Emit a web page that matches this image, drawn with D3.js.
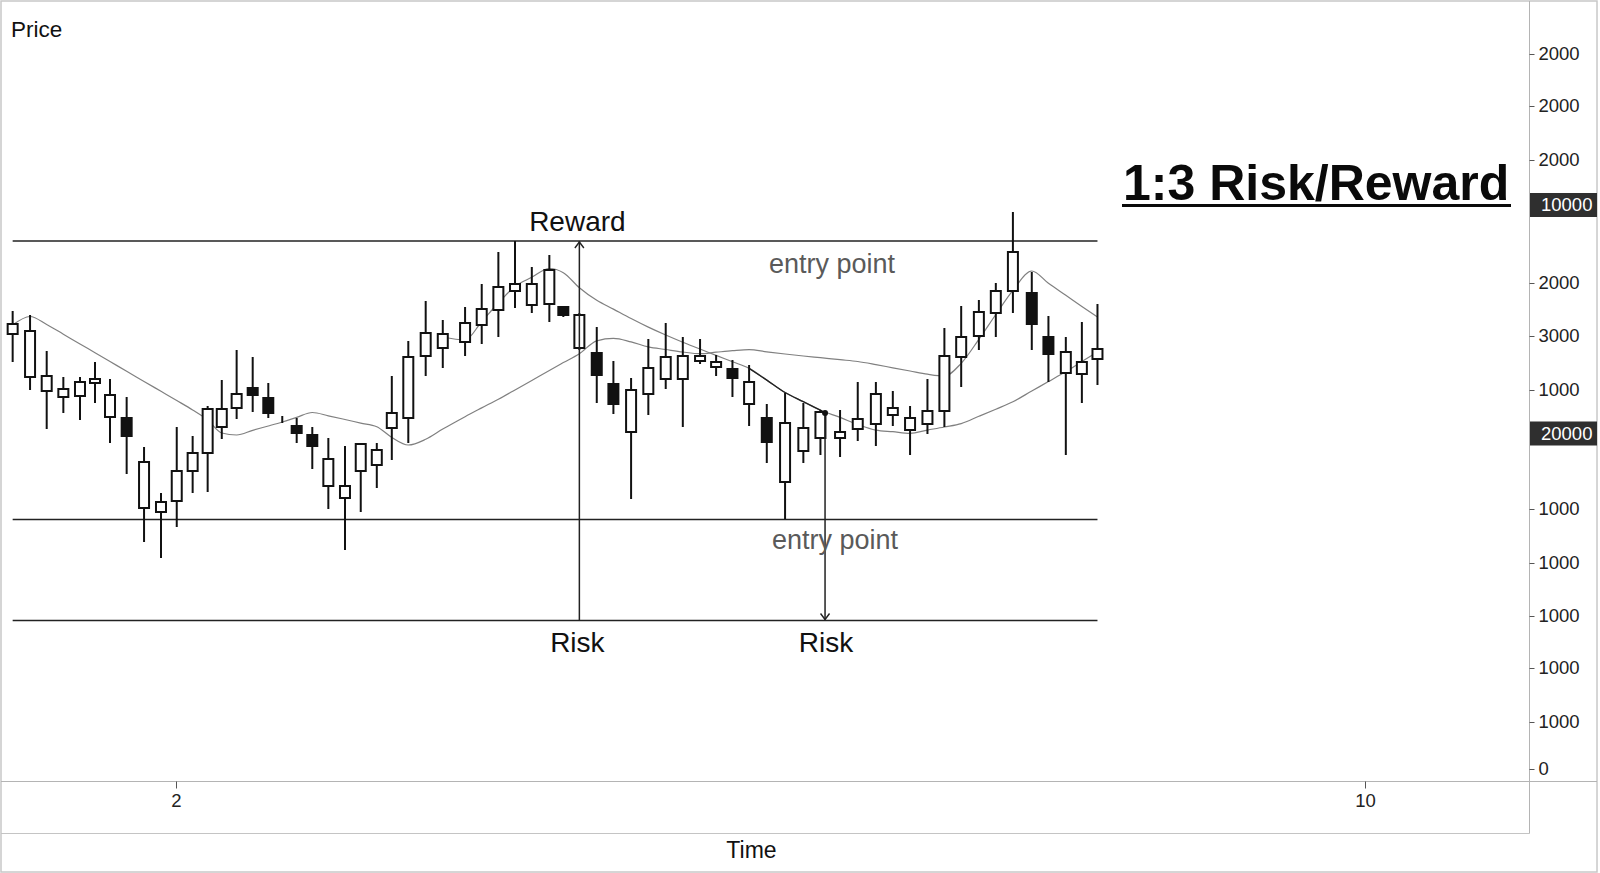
<!DOCTYPE html>
<html><head><meta charset="utf-8">
<script src="https://cdn.jsdelivr.net/npm/d3@7"></script>
<style>html,body{margin:0;padding:0;background:#fff;} svg{display:block;font-family:"Liberation Sans",Arial,sans-serif;}</style>
</head><body><svg id="c" width="1600" height="873"></svg>
<script>
// ---------------- DATA ----------------
const candleTimes = [0.901,1.018,1.130,1.242,1.354,1.455,1.556,1.668,1.785,1.899,2.005,2.112,2.213,2.308,2.408,2.516,2.621,2.715,2.812,2.917,3.025,3.137,3.243,3.351,3.452,3.563,3.680,3.795,3.945,4.057,4.169,4.281,4.394,4.512,4.606,4.714,4.831,4.943,5.062,5.178,5.295,5.410,5.526,5.634,5.744,5.856,5.975,6.098,6.221,6.336,6.468,6.587,6.709,6.823,6.939,7.056,7.170,7.283,7.402,7.516,7.631,7.758,7.870,7.987,8.095,8.200];
const openP  = [435,392,378,372,373,386,352,351,261,257,268,298,316,342,361,381,371,350,343,334,283,271,298,304,341,351,413,421,427,444,459,478,464,465,462,421,416,385,337,375,390,390,408,402,400,365,351,287,318,331,331,340,345,354,339,345,358,412,433,456,478,476,432,396,395,410];
const highP  = [458,454,418,392,392,407,390,372,322,276,342,333,363,389,419,412,386,353,351,342,331,323,326,326,393,428,468,449,462,485,517,528,502,514,463,456,442,408,391,430,446,432,430,414,409,404,365,376,366,359,359,387,387,378,363,390,441,463,469,486,557,497,453,432,447,465];
const lowP   = [407,379,340,356,349,366,326,295,227,211,242,276,277,330,350,357,351,346,326,300,260,219,257,281,309,326,393,401,413,425,432,461,456,447,452,419,366,355,270,354,380,342,405,393,372,343,306,250,306,314,312,328,323,343,314,335,342,382,419,432,456,419,387,314,366,384];
const closeP = [445,438,393,380,387,390,374,333,307,267,298,316,360,360,375,374,356,350,336,323,310,283,325,319,356,412,436,435,446,460,482,485,485,499,454,454,394,365,379,401,412,413,413,407,391,387,327,346,341,357,337,350,375,361,351,358,413,432,457,478,517,445,415,417,407,420];

// moving averages (per candle)
const ma1 = [444,452.5,444.5,434.8,425,416.3,407.5,397.7,387.6,377.7,368.5,359,349,336,334,338.7,343,347,351.6,356.5,353.2,349.5,345.9,342.3,331.6,324,329.7,339.9,352.3,361.1,369.8,379.1,388.6,398.6,406.4,415.3,428.2,430.6,427.1,422.1,419.5,417,415.3,416.8,418.3,419.4,417.2,415,413,411.3,409.3,407.5,404.4,401.2,398,394.8,393,405.7,429.7,454.5,478.6,498,485.7,473.7,462.6,452];
const ma2Start = 27; // ma2 starts at candle index 27
const ma2 = [432,429,447.5,466,482.5,491.7,500.5,496.3,481.3,468.7,459.9,450.5,441.9,434,426.8,420,413.6,407.2,400.6,388.9,376.5,367.3,358.8,351.6,344.5,338.9,337.3,335.7,338.9,342,345.4,352.7,359.8,367.2,378,387.4,397.4,407.4,417];

// levels and annotations
const rewardLevel = 528, entryLevel = 249.5, riskLevel = 148.5;
const rewardArrowT = 4.714;
const riskArrowT = 6.367, riskArrowTop = 356;

// axes
const yTickValues = [715,663,609,486,433,379,260,206,153,101,47,0];
const yTickLabels = ["2000","2000","2000","2000","3000","1000","1000","1000","1000","1000","1000","0"];
const markerValues = [564,335.5];
const markerLabels = ["10000","20000"];
const xTickValues = [2,10];

// ---------------- DRAW ----------------
const FONT = '"Liberation Sans", Arial, sans-serif';
const svg = d3.select('#c');
const x = d3.scaleLinear().domain([2,10]).range([176,1365]);
const y = d3.scaleLinear().domain([0,715]).range([769,54]);

// frame
svg.append('rect').attr('x',1).attr('y',1).attr('width',1596).attr('height',871)
  .attr('fill','#fff').attr('stroke','#c8c8c8').attr('stroke-width',1.5);
svg.append('line').attr('x1',1).attr('x2',1597).attr('y1',781.5).attr('y2',781.5).attr('stroke','#b4b4b4');
svg.append('line').attr('x1',1).attr('x2',1529.5).attr('y1',833.5).attr('y2',833.5).attr('stroke','#c4c4c4');
svg.append('line').attr('x1',1529.5).attr('x2',1529.5).attr('y1',1).attr('y2',833.5).attr('stroke','#b4b4b4');

// y axis
const gy = svg.append('g').attr('transform','translate(1529.5,0)')
  .call(d3.axisRight(y).tickValues(yTickValues).tickFormat((d,i)=>yTickLabels[i]).tickSize(5).tickPadding(4));
gy.select('.domain').remove();
gy.attr('font-size',18.5).attr('font-family',FONT);
gy.selectAll('.tick line').attr('stroke','#555');
gy.selectAll('.tick text').attr('fill','#222');

// markers on y axis
markerValues.forEach((v,i)=>{
  svg.append('rect').attr('x',1530).attr('y',y(v)-12).attr('width',67).attr('height',24).attr('fill','#2f2f2f');
  svg.append('text').attr('x',1541).attr('y',y(v)).attr('dy','0.35em').attr('fill','#fff')
    .attr('font-size',18.5).attr('font-family',FONT).text(markerLabels[i]);
});

// x axis
const gx = svg.append('g').attr('transform','translate(0,781.5)')
  .call(d3.axisBottom(x).tickValues(xTickValues).tickFormat(d3.format('d')).tickSize(7).tickPadding(5));
gx.select('.domain').remove();
gx.attr('font-size',18.5).attr('font-family',FONT);
gx.selectAll('.tick line').attr('stroke','#555');
gx.selectAll('.tick text').attr('fill','#222');

// axis titles
svg.append('text').attr('x',11).attr('y',37).attr('font-size',22.5).attr('fill','#111').text('Price');
svg.append('text').attr('x',751.5).attr('y',858).attr('text-anchor','middle').attr('font-size',23).attr('fill','#111').text('Time');

// level lines
const t0 = candleTimes[0], t1 = candleTimes[candleTimes.length-1];
[rewardLevel, entryLevel, riskLevel].forEach(v=>{
  svg.append('line').attr('x1',x(t0)).attr('x2',x(t1)).attr('y1',y(v)).attr('y2',y(v))
    .attr('stroke','#222').attr('stroke-width',1.6);
});

// moving averages
const line = d3.line().curve(d3.curveMonotoneX);
const ma1Pts = ma1.map((v,i)=>[x(candleTimes[i]), y(v)]);
const ma2Pts = ma2.map((v,i)=>[x(candleTimes[i+ma2Start]), y(v)]);
svg.append('path').attr('d',line(ma1Pts)).attr('fill','none').attr('stroke','#808080').attr('stroke-width',1.2);
svg.append('path').attr('d',line(ma2Pts)).attr('fill','none').attr('stroke','#808080').attr('stroke-width',1.2);
// dark segment leading to risk entry
const darkPts = ma2Pts.slice(45-ma2Start, 50-ma2Start).concat([[x(riskArrowT), y(riskArrowTop)]]);
svg.append('path').attr('d',line(darkPts)).attr('fill','none').attr('stroke','#222').attr('stroke-width',1.4);

// candles
const candles = candleTimes.map((t,i)=>({t,o:openP[i],h:highP[i],l:lowP[i],c:closeP[i]}));
const bw = 10;
const cg = svg.append('g');
cg.selectAll('line.wick').data(candles).join('line').attr('class','wick')
  .attr('x1',d=>x(d.t)).attr('x2',d=>x(d.t)).attr('y1',d=>y(d.h)).attr('y2',d=>y(d.l))
  .attr('stroke','#111').attr('stroke-width',2);
cg.selectAll('rect.body').data(candles).join('rect').attr('class','body')
  .attr('x',d=>x(d.t)-bw/2).attr('width',bw)
  .attr('y',d=>y(Math.max(d.o,d.c))).attr('height',d=>Math.abs(y(d.o)-y(d.c)))
  .attr('fill',d=>d.c>=d.o?'#fff':'#111').attr('stroke','#111').attr('stroke-width',2);

// arrows
function chevron(px,py,dir){ // dir -1 up, +1 down
  return `M${px-4.5},${py-dir*6}L${px},${py}L${px+4.5},${py-dir*6}`;
}
const rx = x(rewardArrowT);
svg.append('line').attr('x1',rx).attr('x2',rx).attr('y1',y(riskLevel)).attr('y2',y(rewardLevel)).attr('stroke','#222').attr('stroke-width',1.5);
svg.append('path').attr('d',chevron(rx,y(rewardLevel)+1,-1)).attr('fill','none').attr('stroke','#222').attr('stroke-width',1.4);
const kx = x(riskArrowT);
svg.append('line').attr('x1',kx).attr('x2',kx).attr('y1',y(riskArrowTop)).attr('y2',y(riskLevel)).attr('stroke','#222').attr('stroke-width',1.5);
svg.append('path').attr('d',chevron(kx,y(riskLevel)-1,1)).attr('fill','none').attr('stroke','#222').attr('stroke-width',1.4);
svg.append('circle').attr('cx',kx).attr('cy',y(riskArrowTop)).attr('r',3).attr('fill','#111');

// annotation texts
svg.append('text').attr('x',rx-2).attr('y',y(rewardLevel)-10).attr('text-anchor','middle').attr('font-size',28).attr('fill','#111').text('Reward');
svg.append('text').attr('x',832).attr('y',y(rewardLevel)+32).attr('text-anchor','middle').attr('font-size',27).attr('fill','#5a5a5a').text('entry point');
svg.append('text').attr('x',835).attr('y',y(entryLevel)+29.5).attr('text-anchor','middle').attr('font-size',27).attr('fill','#5a5a5a').text('entry point');
svg.append('text').attr('x',rx-2).attr('y',y(riskLevel)+31).attr('text-anchor','middle').attr('font-size',28).attr('fill','#111').text('Risk');
svg.append('text').attr('x',kx+1).attr('y',y(riskLevel)+31).attr('text-anchor','middle').attr('font-size',28).attr('fill','#111').text('Risk');

// title
svg.append('text').attr('x',1123).attr('y',200).attr('font-size',50).attr('font-weight','bold').attr('fill','#0a0a0a').text('1:3 Risk/Reward');
svg.append('line').attr('x1',1122).attr('x2',1511).attr('y1',205.5).attr('y2',205.5).attr('stroke','#0a0a0a').attr('stroke-width',3);
</script></body></html>
